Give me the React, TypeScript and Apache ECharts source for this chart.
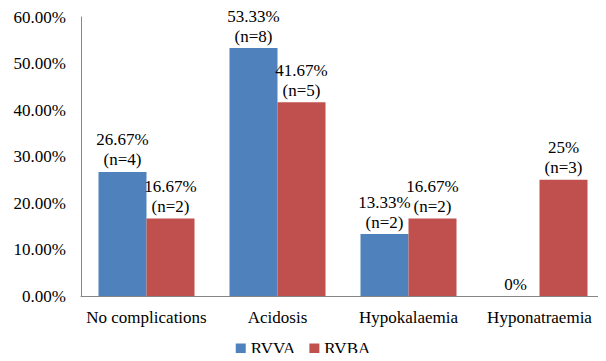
import React, { useEffect, useRef } from "react";
import * as echarts from "echarts";

const categories = ["No complications", "Acidosis", "Hypokalaemia", "Hyponatraemia"];
const rvvaPct = [26.67, 53.33, 13.33, 0];
const rvvaN = [4, 8, 2, 0];
const rvbaPct = [16.67, 41.67, 16.67, 25];
const rvbaN = [2, 5, 2, 3];
const yTicks = { min: 0, max: 60, interval: 10 };

const FONT = "Liberation Serif";

function fmtPct(v: number): string {
  return Number.isInteger(v) ? `${v}%` : `${v.toFixed(2)}%`;
}

function labelFor(counts: number[]) {
  return (p: any) => {
    const n = counts[p.dataIndex];
    const pct = fmtPct(p.value as number);
    return n > 0 ? `${pct}\n(n=${n})` : pct;
  };
}

export default function App() {
  const ref = useRef<HTMLDivElement>(null);

  useEffect(() => {
    if (!ref.current) return;
    const chart = echarts.init(ref.current, undefined, { renderer: "svg" });
    chart.setOption({
      animation: false,
      grid: { left: 81, right: 1, top: 17, bottom: 65, containLabel: false },
      legend: {
        bottom: -1,
        left: "center",
        itemWidth: 10,
        itemHeight: 10,
        itemGap: 14,
        icon: "rect",
        textStyle: { fontFamily: FONT, fontSize: 17, color: "#000" },
        data: ["RVVA", "RVBA"],
      },
      xAxis: {
        type: "category",
        data: categories,
        axisLine: { show: true, lineStyle: { color: "#868686", width: 1 } },
        axisTick: { show: false },
        axisLabel: { fontFamily: FONT, fontSize: 17, color: "#000", margin: 13, interval: 0 },
      },
      yAxis: {
        type: "value",
        min: yTicks.min,
        max: yTicks.max,
        interval: yTicks.interval,
        splitLine: { show: false },
        axisLine: { show: true, lineStyle: { color: "#868686", width: 1 } },
        axisTick: { show: false },
        axisLabel: {
          fontFamily: FONT,
          fontSize: 17,
          color: "#000",
          margin: 15,
          formatter: (v: number) => `${v.toFixed(2)}%`,
        },
      },
      series: [
        {
          name: "RVVA",
          type: "bar",
          data: rvvaPct,
          barGap: "0%",
          barCategoryGap: "26.7%",
          itemStyle: { color: "#4f81bd" },
          label: {
            show: true,
            position: "top",
            distance: 2,
            fontFamily: FONT,
            fontSize: 17,
            color: "#000",
            lineHeight: 20,
            formatter: labelFor(rvvaN),
          },
        },
        {
          name: "RVBA",
          type: "bar",
          data: rvbaPct,
          itemStyle: { color: "#c0504d" },
          label: {
            show: true,
            position: "top",
            distance: 2,
            fontFamily: FONT,
            fontSize: 17,
            color: "#000",
            lineHeight: 20,
            formatter: labelFor(rvbaN),
          },
        },
      ],
    });
    return () => chart.dispose();
  }, []);

  return (
    <div style={{ margin: -8 }}>
      <div ref={ref} style={{ width: 606, height: 361 }} />
    </div>
  );
}
